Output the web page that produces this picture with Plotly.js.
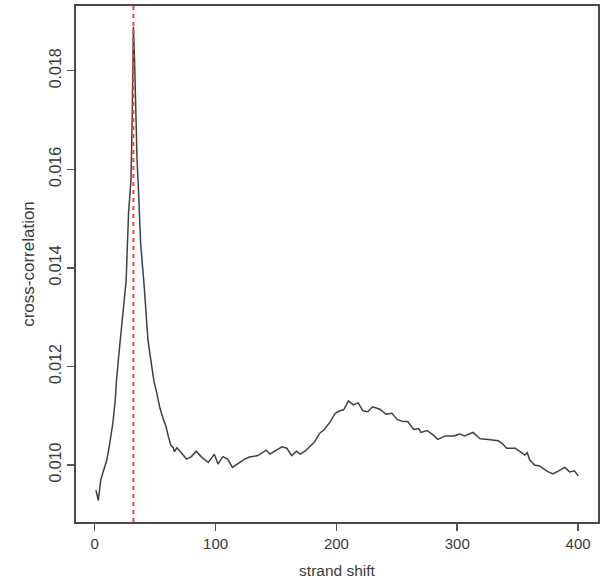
<!DOCTYPE html>
<html>
<head>
<meta charset="utf-8">
<script src="https://cdn.plot.ly/plotly-3.0.1.min.js"></script>
<style>
html,body{margin:0;padding:0;background:#fff;}
#chart{width:603px;height:579px;}
</style>
</head>
<body>
<div id="chart"></div>
<script>
const strandShift = [1,3,5,8,10,12,15,17,18,20,22,24,26,28,30,31,32,33,34,35,36,38,41,44,46,49,51,54,57,59,61,63,65,66,68,72,76,80,84,88,94,99,102,106,110,114,119,124,128,135,142,145,149,155,159,163,167,170,174,178,182,186,190,195,199,203,206,210,214,218,222,226,230,236,241,246,250,255,259,264,268,270,275,280,284,290,297,302,306,313,319,324,330,334,337,341,348,352,356,358,360,364,368,374,379,384,389,393,397,400];
const crossCorrelation = [0.00949,0.00928,0.00970,0.00994,0.01010,0.01037,0.01085,0.01132,0.01172,0.01225,0.01274,0.01320,0.01375,0.01511,0.01578,0.01700,0.01889,0.01820,0.01690,0.01620,0.01570,0.01450,0.01360,0.01255,0.01220,0.01170,0.01150,0.01115,0.01091,0.01078,0.01057,0.01040,0.01035,0.01027,0.01035,0.01024,0.01012,0.01017,0.01028,0.01017,0.01005,0.01022,0.01002,0.01017,0.01012,0.00995,0.01003,0.01012,0.01016,0.01019,0.01030,0.01022,0.01028,0.01037,0.01034,0.01019,0.01028,0.01022,0.01028,0.01037,0.01047,0.01064,0.01072,0.01088,0.01105,0.01110,0.01112,0.01130,0.01122,0.01126,0.01110,0.01108,0.01118,0.01113,0.01103,0.01105,0.01093,0.01088,0.01088,0.01072,0.01074,0.01066,0.01070,0.01061,0.01052,0.01059,0.01059,0.01063,0.01059,0.01066,0.01053,0.01052,0.01051,0.01049,0.01044,0.01034,0.01034,0.01027,0.01020,0.01025,0.01010,0.01000,0.00998,0.00988,0.00982,0.00988,0.00995,0.00986,0.00988,0.00978];
const peakShift = 32;
const xTicks = [0,100,200,300,400];
const yTicks = [0.010,0.012,0.014,0.016,0.018];
const yTickLabels = ["0.010","0.012","0.014","0.016","0.018"];

const fam = "Liberation Sans, Arial, sans-serif";
const txt = "#3a3a3a";

Plotly.newPlot("chart", [{
  x: strandShift, y: crossCorrelation, type:"scatter", mode:"lines",
  line:{color:"#404040", width:1.5}, hoverinfo:"skip"
}], {
  width:603, height:579,
  margin:{l:76, r:5, t:6, b:57},
  paper_bgcolor:"#fff", plot_bgcolor:"#fff",
  showlegend:false,
  font:{family:fam, size:15, color:txt},
  xaxis:{
    range:[-15.5,416.5], tickvals:xTicks, ticktext:xTicks.map(String),
    ticks:"outside", ticklen:7, tickwidth:1.5, tickcolor:"#555",
    showline:true, mirror:true, linecolor:"#4a4a4a", linewidth:1.8,
    showgrid:false, zeroline:false, automargin:false,
    tickfont:{family:fam, size:15, color:txt},
    title:{text:"strand shift", font:{family:fam,size:15.5,color:txt}, standoff:14}
  },
  yaxis:{
    range:[0.008843,0.019313], tickvals:yTicks, ticktext:yTickLabels, tickangle:-90,
    ticks:"outside", ticklen:7, tickwidth:1.5, tickcolor:"#555",
    showline:true, mirror:true, linecolor:"#4a4a4a", linewidth:1.8,
    showgrid:false, zeroline:false, automargin:false,
    tickfont:{family:fam, size:16, color:txt},
    title:{text:"cross-correlation", font:{family:fam,size:17,color:txt}, standoff:8}
  },
  shapes:[{
    type:"line", xref:"x", yref:"paper", x0:peakShift, x1:peakShift, y0:0, y1:1,
    line:{color:"#ff3b3b", width:2, dash:"4px,4px"}
  }]
}, {staticPlot:true});
</script>
</body>
</html>
